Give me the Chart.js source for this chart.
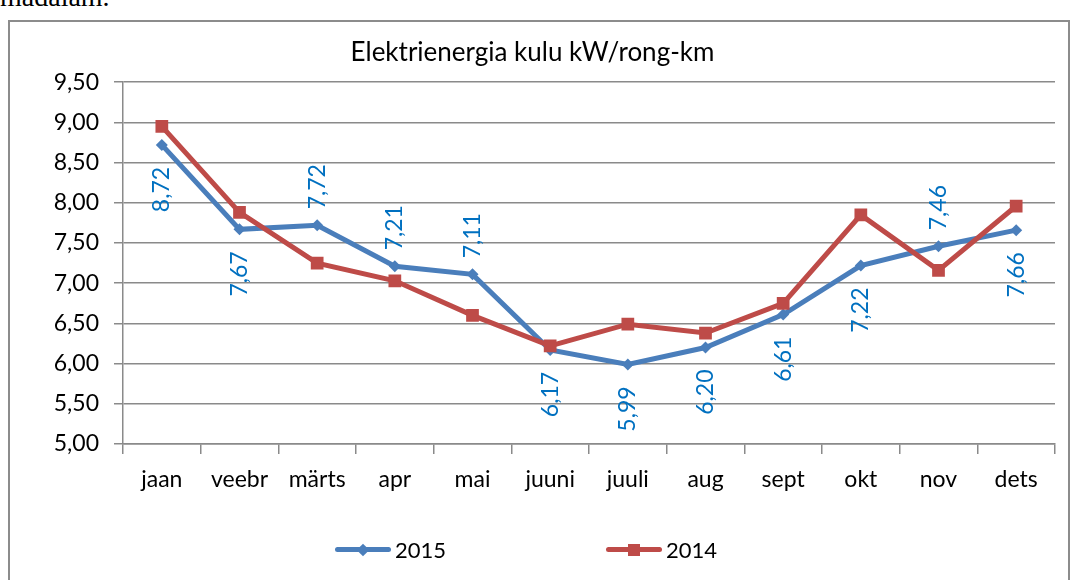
<!DOCTYPE html>
<html>
<head>
<meta charset="utf-8">
<script src="https://cdn.jsdelivr.net/npm/chart.js@4.4.0/dist/chart.umd.min.js"></script>
<style>
  body { margin: 0; background: #fff; width: 1078px; height: 580px; overflow: hidden; position: relative; }
  #above { position: absolute; left: 0; top: -19px; font: 28px "Liberation Serif", serif; color: #000; }
  #frame { position: absolute; left: 8px; top: 20px; width: 1058px; height: 580px; border: 2px solid #8c8c8c; }
  #chart { position: absolute; left: 0; top: 0; }
  #legend { position: absolute; left: 0; right: 0; top: 514px; display: flex; justify-content: center; gap: 160px; font: 22px Lato, sans-serif; color: #000; margin-left: -26px; }
  .item { display: flex; align-items: center; }
  .swatch { position: relative; width: 56px; height: 5px; border-radius: 3px; margin-right: 4px; }
  .swatch i { position: absolute; left: 50%; top: 50%; width: 9px; height: 9px; transform: translate(-50%, -50%) rotate(45deg); }
  .swatch.sq i { width: 12px; height: 12px; transform: translate(-50%, -50%); }
</style>
</head>
<body>
<div id="above">madalam.</div>
<div id="frame">
  <canvas id="chart" width="1058" height="558"></canvas>
  <div id="legend"></div>
</div>
<script>
// data
const months = ['jaan', 'veebr', 'märts', 'apr', 'mai', 'juuni', 'juuli', 'aug', 'sept', 'okt', 'nov', 'dets'];
const values2015 = [8.72, 7.67, 7.72, 7.21, 7.11, 6.17, 5.99, 6.20, 6.61, 7.22, 7.46, 7.66];
const values2014 = [8.95, 7.88, 7.25, 7.03, 6.60, 6.22, 6.49, 6.38, 6.75, 7.85, 7.16, 7.96];
const labelSide2015 = ['below', 'below', 'above', 'above', 'above', 'below', 'below', 'below', 'below', 'below', 'above', 'below'];
const yMin = 5, yMax = 9.5, yStep = 0.5;

const blue = '#4a7ebb';
const red = '#be4b48';
const gridColor = '#8a8a8a';
const fmt = v => v.toFixed(2).replace('.', ',');

Chart.defaults.font.family = 'Lato, sans-serif';
Chart.defaults.color = '#000';

// rotated value labels for 2015
const valueLabels = {
  id: 'valueLabels',
  afterDatasetsDraw(chart) {
    const ctx = chart.ctx;
    const meta = chart.getDatasetMeta(0);
    ctx.save();
    ctx.fillStyle = '#0070c0';
    ctx.font = '23px Lato, sans-serif';
    ctx.textBaseline = 'middle';
    meta.data.forEach((pt, i) => {
      const above = labelSide2015[i] === 'above';
      ctx.save();
      ctx.translate(pt.x, above ? pt.y - 16 : pt.y + 22);
      ctx.rotate(-Math.PI / 2);
      ctx.textAlign = above ? 'left' : 'right';
      ctx.fillText(fmt(values2015[i]), 0, 0);
      ctx.restore();
    });
    ctx.restore();
  }
};

new Chart(document.getElementById('chart'), {
  type: 'line',
  data: {
    labels: months,
    datasets: [
      {
        label: '2015',
        data: values2015,
        borderColor: blue,
        backgroundColor: blue,
        borderWidth: 5,
        pointStyle: 'rectRot',
        pointRadius: 6,
        pointBorderWidth: 0,
        tension: 0,
        order: 1
      },
      {
        label: '2014',
        data: values2014,
        borderColor: red,
        backgroundColor: red,
        borderWidth: 5,
        pointStyle: 'rect',
        pointRadius: 9,
        pointBorderWidth: 0,
        tension: 0,
        order: 0
      }
    ]
  },
  options: {
    responsive: false,
    animation: false,
    layout: { padding: { left: 0, right: 13, top: 0, bottom: 76 } },
    plugins: {
      legend: { display: false },
      tooltip: { enabled: false },
      title: {
        display: true,
        text: 'Elektrienergia kulu kW/rong-km',
        font: { size: 26, weight: 'normal' },
        color: '#000',
        padding: { top: 15, bottom: 14 }
      }
    },
    scales: {
      x: {
        offset: true,
        grid: { offset: true, drawOnChartArea: false, drawTicks: true, tickLength: 10, color: gridColor, lineWidth: 1.5 },
        border: { display: true, color: gridColor, width: 1.5 },
        ticks: { font: { size: 23 }, padding: 12, maxRotation: 0, autoSkip: false },
        afterFit(s) { s.height = 60; }
      },
      y: {
        min: yMin,
        max: yMax,
        grid: { color: gridColor, lineWidth: 1.5, tickLength: 9 },
        border: { display: true, color: gridColor, width: 1.5 },
        ticks: { stepSize: yStep, font: { size: 23 }, padding: 15, callback: v => fmt(v) },
        afterFit(s) { s.width = 113; }
      }
    }
  },
  plugins: [valueLabels]
});

// legend with line + marker samples
const legend = document.getElementById('legend');
[['2015', blue, ''], ['2014', red, 'sq']].forEach(([name, color, cls]) => {
  const item = document.createElement('div');
  item.className = 'item';
  item.innerHTML = `<span class="swatch ${cls}" style="background:${color}"><i style="background:${color}"></i></span>${name}`;
  legend.appendChild(item);
});
</script>
</body>
</html>
